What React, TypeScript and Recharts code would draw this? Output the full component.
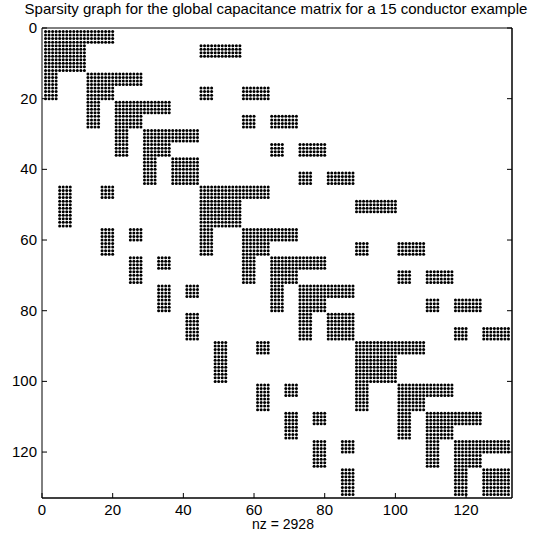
import React from 'react';
import { ScatterChart, Scatter, XAxis, YAxis } from 'recharts';

// Matrix is 132 x 132 unknowns, nonzeros come in 4x4 blocks.
const MATRIX_SIZE = 132;
const BLOCK_SIZE = 4;
const AXIS_MAX = 133;
const TICKS = [0, 20, 40, 60, 80, 100, 120];
const TITLE = 'Sparsity graph for the global capacitance matrix for a 15 conductor example';
const X_LABEL = 'nz = 2928';

// For each row block (0..32): runs of nonzero column blocks [startBlock, endBlock]
const ROW_BLOCK_RUNS: number[][][] = [
  [[0, 4]],
  [[0, 2], [11, 13]],
  [[0, 2]],
  [[0, 0], [3, 6]],
  [[0, 0], [3, 4], [11, 11], [14, 15]],
  [[3, 3], [5, 8]],
  [[3, 3], [5, 6], [14, 14], [16, 17]],
  [[5, 5], [7, 10]],
  [[5, 5], [7, 8], [16, 16], [18, 19]],
  [[7, 7], [9, 10]],
  [[7, 7], [9, 10], [18, 18], [20, 21]],
  [[1, 1], [4, 4], [11, 15]],
  [[1, 1], [11, 13], [22, 24]],
  [[1, 1], [11, 13]],
  [[4, 4], [6, 6], [11, 11], [14, 17]],
  [[4, 4], [11, 11], [14, 15], [22, 22], [25, 26]],
  [[6, 6], [8, 8], [14, 14], [16, 19]],
  [[6, 6], [14, 14], [16, 17], [25, 25], [27, 28]],
  [[8, 8], [10, 10], [16, 16], [18, 21]],
  [[8, 8], [16, 16], [18, 19], [27, 27], [29, 30]],
  [[10, 10], [18, 18], [20, 21]],
  [[10, 10], [18, 18], [20, 21], [29, 29], [31, 32]],
  [[12, 12], [15, 15], [22, 26]],
  [[12, 12], [22, 24]],
  [[12, 12], [22, 24]],
  [[15, 15], [17, 17], [22, 22], [25, 28]],
  [[15, 15], [22, 22], [25, 26]],
  [[17, 17], [19, 19], [25, 25], [27, 30]],
  [[17, 17], [25, 25], [27, 28]],
  [[19, 19], [21, 21], [27, 27], [29, 32]],
  [[19, 19], [27, 27], [29, 30]],
  [[21, 21], [29, 29], [31, 32]],
  [[21, 21], [29, 29], [31, 32]],
];

const points: { col: number; row: number }[] = [];
ROW_BLOCK_RUNS.forEach((runs, rb) => {
  for (let r = rb * BLOCK_SIZE + 1; r <= rb * BLOCK_SIZE + BLOCK_SIZE && r <= MATRIX_SIZE; r++) {
    runs.forEach(([cs, ce]) => {
      for (let c = cs * BLOCK_SIZE + 1; c <= ce * BLOCK_SIZE + BLOCK_SIZE; c++) {
        points.push({ col: c, row: r });
      }
    });
  }
});

const FONT = 'Liberation Sans, Arial, Helvetica, sans-serif';
const TICK_LEN = 5;
const TICK_FONT = 15;

const BottomTick = (p: any) => {
  const { x, y, payload } = p;
  return (
    <g>
      <line x1={x} x2={x} y1={y} y2={y - TICK_LEN} stroke="#000" strokeWidth={1} />
      <text x={x} y={y + 17} textAnchor="middle" fontSize={TICK_FONT} fontFamily={FONT} fill="#000">
        {payload.value}
      </text>
    </g>
  );
};

const TopTick = (p: any) => {
  const { x, y } = p;
  return <line x1={x} x2={x} y1={y} y2={y + TICK_LEN} stroke="#000" strokeWidth={1} />;
};

const LeftTick = (p: any) => {
  const { x, y, payload } = p;
  return (
    <g>
      <line x1={x} x2={x + TICK_LEN} y1={y} y2={y} stroke="#000" strokeWidth={1} />
      <text x={x - 5} y={y + 5} textAnchor="end" fontSize={TICK_FONT} fontFamily={FONT} fill="#000">
        {payload.value}
      </text>
    </g>
  );
};

const RightTick = (p: any) => {
  const { x, y } = p;
  return <line x1={x} x2={x - TICK_LEN} y1={y} y2={y} stroke="#000" strokeWidth={1} />;
};

const Dot = (p: any) => <circle cx={p.cx} cy={p.cy} r={1.5} fill="#000" />;

export default function App() {
  return (
    <div style={{ position: 'absolute', left: 0, top: 0, width: 547, height: 540, background: '#fff' }}>
      <div
        style={{
          position: 'absolute',
          left: 0,
          width: 552,
          top: 0,
          textAlign: 'center',
          fontFamily: FONT,
          fontSize: 15,
          lineHeight: '18px',
          color: '#000',
          whiteSpace: 'nowrap',
        }}
      >
        {TITLE}
      </div>
      <ScatterChart width={547} height={540} margin={{ top: 0, right: 0, bottom: 0, left: 0 }}>
        <XAxis
          xAxisId="bottom"
          dataKey="col"
          type="number"
          domain={[0, AXIS_MAX]}
          ticks={TICKS}
          orientation="bottom"
          height={42}
          tickSize={0}
          tickMargin={0}
          tickLine={false}
          axisLine={{ stroke: '#000', strokeWidth: 1.5 }}
          tick={BottomTick}
          interval={0}
          allowDataOverflow
        />
        <XAxis
          xAxisId="top"
          type="number"
          domain={[0, AXIS_MAX]}
          ticks={TICKS}
          orientation="top"
          height={28}
          tickSize={0}
          tickMargin={0}
          tickLine={false}
          axisLine={{ stroke: '#000', strokeWidth: 1 }}
          tick={TopTick}
          interval={0}
          allowDataOverflow
        />
        <YAxis
          yAxisId="left"
          dataKey="row"
          type="number"
          domain={[0, AXIS_MAX]}
          ticks={TICKS}
          reversed
          orientation="left"
          width={42}
          tickSize={0}
          tickMargin={0}
          tickLine={false}
          axisLine={{ stroke: '#000', strokeWidth: 1 }}
          tick={LeftTick}
          interval={0}
          allowDataOverflow
        />
        <YAxis
          yAxisId="right"
          type="number"
          domain={[0, AXIS_MAX]}
          ticks={TICKS}
          reversed
          orientation="right"
          width={35}
          tickSize={0}
          tickMargin={0}
          tickLine={false}
          axisLine={{ stroke: '#000', strokeWidth: 1.5 }}
          tick={RightTick}
          interval={0}
          allowDataOverflow
        />
        <Scatter
          data={points}
          xAxisId="bottom"
          yAxisId="left"
          shape={Dot}
          isAnimationActive={false}
        />
      </ScatterChart>
      <div
        style={{
          position: 'absolute',
          left: 48,
          width: 470,
          top: 516,
          textAlign: 'center',
          fontFamily: FONT,
          fontSize: 14,
          lineHeight: '17px',
          color: '#000',
          whiteSpace: 'nowrap',
        }}
      >
        {X_LABEL}
      </div>
    </div>
  );
}
